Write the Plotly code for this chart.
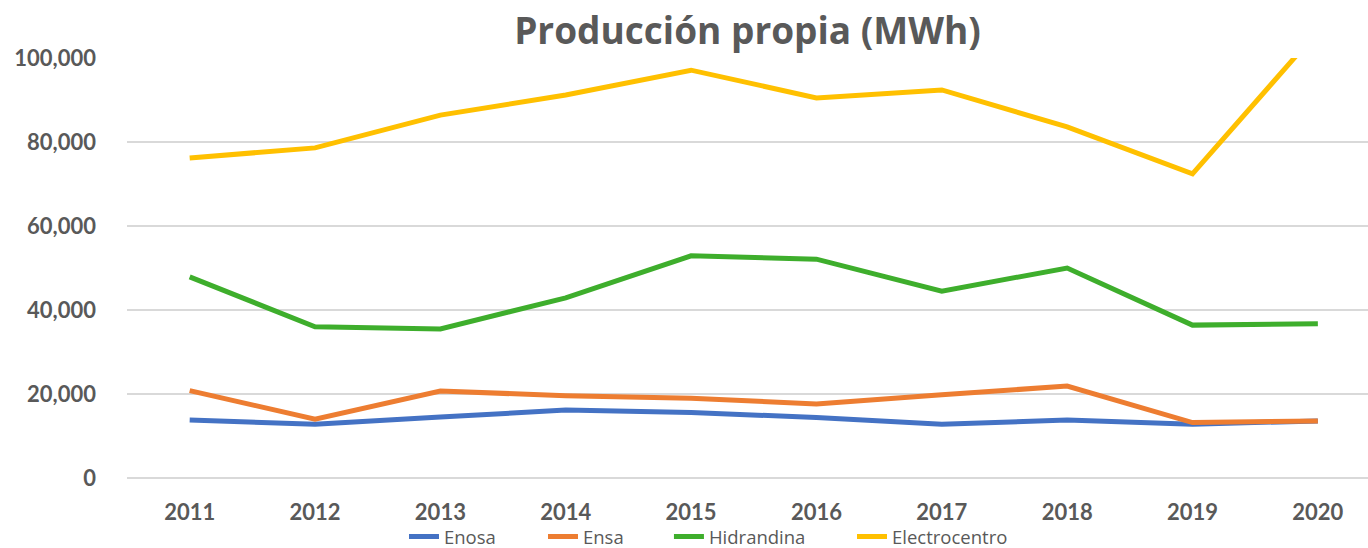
import plotly.graph_objects as go

years = ["2011", "2012", "2013", "2014", "2015", "2016", "2017", "2018", "2019", "2020"]
enosa = [13800, 12800, 14500, 16200, 15600, 14400, 12800, 13800, 12800, 13600]
ensa = [20800, 14000, 20700, 19600, 19000, 17600, 19800, 21900, 13200, 13600]
hidrandina = [47900, 36000, 35500, 42900, 52900, 52100, 44500, 50000, 36400, 36700]
electrocentro = [76200, 78600, 86400, 91200, 97100, 90500, 92400, 83600, 72400, 106400]

series = [
    ("Enosa", enosa, "#4472C4", "legend", 0.2232),
    ("Ensa", ensa, "#ED7D31", "legend2", 0.3352),
    ("Hidrandina", hidrandina, "#3EAE2C", "legend3", 0.4367),
    ("Electrocentro", electrocentro, "#FFC000", "legend4", 0.5842),
]

fig = go.Figure()
legend_layout = {}
for name, vals, col, lg, lx in series:
    fig.add_trace(go.Scatter(x=years, y=vals, name=name, mode="lines", legend=lg,
                             line=dict(color=col, width=5)))
    legend_layout[lg] = dict(orientation="h", x=lx, xanchor="left",
                             y=(548 - 537) / 548, yref="container", yanchor="middle",
                             bgcolor="rgba(0,0,0,0)", itemwidth=30,
                             font=dict(family="Open Sans, sans-serif", size=18.5, color="#595959"))

tickfont = dict(family="Lato, Open Sans, sans-serif", size=22, color="#595959", weight="bold")

fig.update_layout(
    width=1368, height=548,
    margin=dict(l=127, r=0, t=58, b=70),
    paper_bgcolor="white", plot_bgcolor="white",
    title=dict(text="<b>Producción propia (MWh)</b>", x=0.5, xref="paper", xanchor="center",
               y=1 - 31 / 548, yref="container", yanchor="middle",
               font=dict(family="Open Sans, sans-serif", size=37, color="#595959")),
    xaxis=dict(type="category", range=[-0.5, 9.4], showgrid=False, showline=False,
               ticks="", ticklabelstandoff=19, automargin=False,
               tickfont=tickfont),
    yaxis=dict(range=[0, 100000], dtick=20000, tickformat=",", gridcolor="#D9D9D9",
               gridwidth=2, zeroline=True, zerolinecolor="#D9D9D9", zerolinewidth=2,
               showline=False, ticks="",
               ticklabelstandoff=30, automargin=False,
               tickfont=tickfont),
    showlegend=True,
    **legend_layout,
)

fig.write_html("out.html", config={"displayModeBar": False},
               post_script="document.body.style.margin='0';document.body.style.overflow='hidden';")
